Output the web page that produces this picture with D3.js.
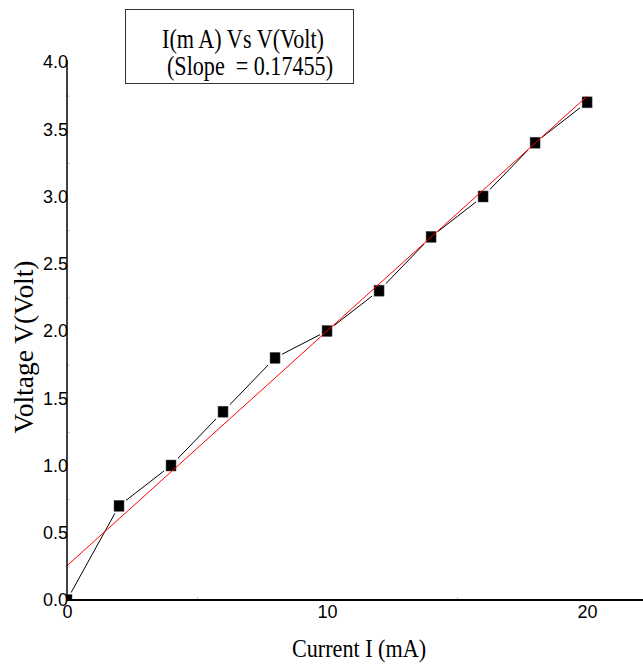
<!DOCTYPE html>
<html>
<head>
<meta charset="utf-8">
<script src="https://cdn.jsdelivr.net/npm/d3@7"></script>
<style>
  body { margin: 0; background: #fff; }
  svg { display: block; }
  .tick text { font-family: "Liberation Sans", Arial, sans-serif; font-size: 18px; fill: #000; }
  text.serif { font-family: "Liberation Serif", "Times New Roman", "DejaVu Serif", serif; fill: #000; }
</style>
</head>
<body>
<script>
// measured data: current (mA) vs voltage (V)
const current = [0, 2, 4, 6, 8, 10, 12, 14, 16, 18, 20];
const voltage = [0, 0.7, 1.0, 1.4, 1.8, 2.0, 2.3, 2.7, 3.0, 3.4, 3.7];
const xTicks = [0, 10, 20];
const yTicks = [0, 0.5, 1.0, 1.5, 2.0, 2.5, 3.0, 3.5, 4.0];
const xMinorTicks = [5, 15];
const yMinorTicks = [0.25, 0.75, 1.25, 1.75, 2.25, 2.75, 3.25, 3.75];

const width = 643, height = 666;
const marginLeft = 67, plotBottom = 600, plotTop = 62;

const svg = d3.select("body").append("svg")
  .attr("width", width)
  .attr("height", height);

const x = d3.scaleLinear().domain([0, 22.15]).range([marginLeft, width]);
const y = d3.scaleLinear().domain([0, 4]).range([plotBottom, plotTop]);

const pts = current.map((c, i) => ({ x: c, y: voltage[i] }));

// least squares fit
const mx = d3.mean(current), my = d3.mean(voltage);
const sxy = d3.sum(pts, d => (d.x - mx) * (d.y - my));
const sxx = d3.sum(pts, d => (d.x - mx) * (d.x - mx));
const slope = sxy / sxx;
const intercept = my - slope * mx;

// clip to the plot area so the origin marker is cut by the axes
svg.append("clipPath").attr("id", "plot")
  .append("rect")
  .attr("x", marginLeft).attr("y", 0)
  .attr("width", width - marginLeft).attr("height", plotBottom);

const plot = svg.append("g").attr("clip-path", "url(#plot)");

plot.append("path")
  .datum(pts)
  .attr("fill", "none")
  .attr("stroke", "#000")
  .attr("stroke-width", 1)
  .attr("d", d3.line().x(d => x(d.x)).y(d => y(d.y)));

// white halo then black square
plot.selectAll("rect.halo").data(pts).enter().append("rect")
  .attr("class", "halo")
  .attr("x", d => x(d.x) - 7)
  .attr("y", d => y(d.y) - 7.5)
  .attr("width", 14)
  .attr("height", 15)
  .attr("fill", "#fff");

plot.selectAll("rect.mark").data(pts).enter().append("rect")
  .attr("class", "mark")
  .attr("x", d => x(d.x) - 5)
  .attr("y", d => y(d.y) - 5.5)
  .attr("width", 10)
  .attr("height", 11)
  .attr("fill", "#000")
  .attr("stroke", "#555")
  .attr("stroke-width", 0.5);

const fitEnds = [0, d3.max(current)];
plot.append("line")
  .attr("x1", x(fitEnds[0])).attr("y1", y(intercept + slope * fitEnds[0]))
  .attr("x2", x(fitEnds[1])).attr("y2", y(intercept + slope * fitEnds[1]))
  .attr("stroke", "#ff0000")
  .attr("stroke-width", 1);

// faint minor ticks inside the plot
svg.append("g")
  .attr("transform", "translate(0," + plotBottom + ")")
  .call(d3.axisBottom(x).tickValues(xMinorTicks).tickSize(-3).tickFormat(""))
  .call(g => g.select(".domain").remove())
  .call(g => g.selectAll("line").attr("stroke", "#ccc"));

svg.append("g")
  .attr("transform", "translate(" + marginLeft + ",0)")
  .call(d3.axisLeft(y).tickValues(yMinorTicks).tickSize(-3).tickFormat(""))
  .call(g => g.select(".domain").remove())
  .call(g => g.selectAll("line").attr("stroke", "#ccc"));

// axes
const xAxis = svg.append("g")
  .attr("transform", "translate(0," + plotBottom + ")")
  .call(d3.axisBottom(x).tickValues(xTicks).tickSize(0).tickPadding(5).tickFormat(d3.format("d")));
xAxis.select(".domain").remove();
xAxis.append("line")
  .attr("x1", marginLeft).attr("x2", width)
  .attr("stroke", "#000").attr("stroke-width", 2.2);

const yAxis = svg.append("g")
  .attr("transform", "translate(" + marginLeft + ",0)")
  .call(d3.axisLeft(y).tickValues(yTicks).tickSize(0).tickPadding(-1).tickFormat(d3.format(".1f")));
yAxis.select(".domain").remove();
yAxis.append("line")
  .attr("y1", 60).attr("y2", plotBottom)
  .attr("stroke", "#000").attr("stroke-width", 1.5);

// axis titles
svg.append("text")
  .attr("class", "serif")
  .attr("x", 359).attr("y", 657)
  .attr("text-anchor", "middle")
  .attr("font-size", 25)
  .attr("textLength", 134)
  .attr("lengthAdjust", "spacingAndGlyphs")
  .text("Current I (mA)");

svg.append("text")
  .attr("class", "serif")
  .attr("transform", "translate(33,347) rotate(-90)")
  .attr("text-anchor", "middle")
  .attr("font-size", 27)
  .attr("textLength", 173)
  .attr("lengthAdjust", "spacingAndGlyphs")
  .text("Voltage V(Volt)");

// legend box
svg.append("rect")
  .attr("x", 125.5).attr("y", 9.5)
  .attr("width", 228).attr("height", 74)
  .attr("fill", "#fff")
  .attr("stroke", "#333")
  .attr("stroke-width", 1);

svg.append("text")
  .attr("class", "serif")
  .attr("x", 243).attr("y", 48)
  .attr("text-anchor", "middle")
  .attr("font-size", 27)
  .attr("textLength", 162)
  .attr("lengthAdjust", "spacingAndGlyphs")
  .text("I(m A) Vs V(Volt)");

svg.append("text")
  .attr("class", "serif")
  .attr("x", 250).attr("y", 75)
  .attr("text-anchor", "middle")
  .attr("font-size", 27)
  .attr("textLength", 166)
  .attr("lengthAdjust", "spacingAndGlyphs")
  .attr("xml:space", "preserve")
  .text("(Slope  = " + d3.format(".5f")(slope) + ")");
</script>
</body>
</html>
